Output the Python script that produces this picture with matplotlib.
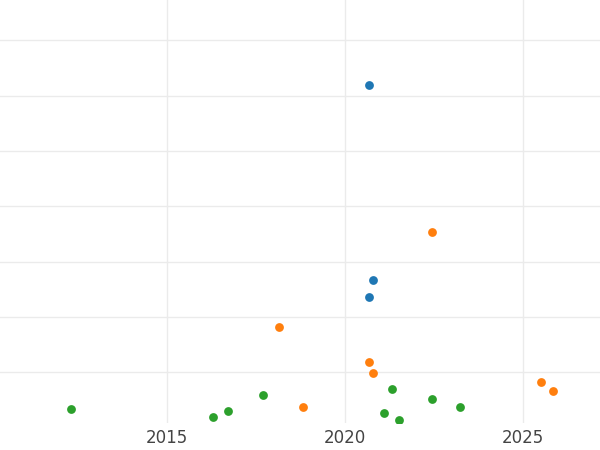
import matplotlib
matplotlib.use('Agg')
import matplotlib.pyplot as plt

blue_x = [2020.67, 2020.79, 2020.67]
blue_y = [6.19, 2.66, 2.36]
orange_x = [2022.44, 2018.15, 2020.67, 2020.79, 2025.51, 2025.84, 2018.82]
orange_y = [3.53, 1.81, 1.18, 0.98, 0.82, 0.66, 0.37]
green_x = [2012.30, 2016.29, 2016.71, 2017.70, 2021.32, 2021.10, 2021.52, 2022.44, 2023.23]
green_y = [0.33, 0.19, 0.29, 0.58, 0.69, 0.26, 0.13, 0.51, 0.37]

fig = plt.figure(figsize=(6, 4.5), dpi=100)
ax = fig.add_axes([0, 0.06, 1, 0.94])
ax.scatter(blue_x, blue_y, s=40, c='#1f77b4', zorder=3, linewidths=0)
ax.scatter(orange_x, orange_y, s=40, c='#ff7f0e', zorder=3, linewidths=0)
ax.scatter(green_x, green_y, s=40, c='#2ca02c', zorder=3, linewidths=0)
ax.set_xlim(2010.31, 2027.16)
ax.set_ylim(0.08, 7.73)
ax.set_xticks([2015, 2020, 2025])
ax.set_yticks(range(1, 8))
ax.set_yticklabels([])
ax.grid(True, color='#ebebeb', linewidth=1.0)
ax.set_axisbelow(True)
for s in ax.spines.values():
    s.set_visible(False)
ax.tick_params(length=0, labelsize=12, colors='#444444', pad=4)
fig.savefig('out.png')
